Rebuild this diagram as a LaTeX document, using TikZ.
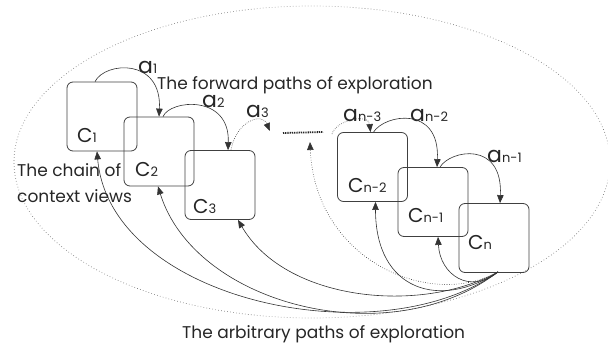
\documentclass[tikz,border=0pt]{standalone}
\usepackage{fontspec}
\setmainfont{Poppins}
\usetikzlibrary{arrows.meta,calc}
\newcommand\ctxlab[1]{{\fontsize{20}{20}\selectfont C}{\fontsize{13}{13}\selectfont #1}}
\newcommand\actlab[1]{{\fontsize{22}{22}\selectfont a}{\fontsize{13}{13}\selectfont #1}}
\begin{document}
\begin{tikzpicture}[x=1pt,y=-1pt,
  view/.style={draw=black!75,line width=0.8pt,rounded corners=6pt,minimum width=70pt,minimum height=69pt,inner sep=0pt},
  fwd/.style={draw=black!80,line width=0.6pt,-{Triangle[length=8pt,width=6.5pt]}},
  fwddot/.style={fwd,dash pattern=on 0.6pt off 1.4pt},
  arb/.style={draw=black!80,line width=0.6pt,-{Triangle[length=8pt,width=6.5pt]}},
  arbdot/.style={arb,dash pattern=on 0.6pt off 1.8pt},
  txt/.style={inner sep=0pt,anchor=base west,font=\fontsize{17}{18}\selectfont,text=black!85},
  lab/.style={inner sep=0pt,anchor=base west,text=black!85},
  scope/.style={draw=black!55,line width=0.7pt,dash pattern=on 0.6pt off 2.4pt}]
\useasboundingbox (0,0) rectangle (608,343);
% outer dotted ellipse
\draw[scope] (312,162) ellipse [x radius=298pt, y radius=156pt];
% context views
\node[view] (c1) at (102,116.5) {};
\node[view] (c2) at (159,151.5) {};
\node[view] (c3) at (220,185) {};
\node[view] (cn2) at (372.5,167) {};
\node[view] (cn1) at (433,202) {};
\node[view] (cn) at (494,238) {};
% box labels
\node[lab] (l1) at (77,142) {\ctxlab{1}};
\node[lab] (l2) at (135,176) {\ctxlab{2}};
\node[lab] (l3) at (193,213) {\ctxlab{3}};
\node[lab] (ln2) at (348,192) {\ctxlab{n-2}};
\node[lab] (ln1) at (408,222) {\ctxlab{n-1}};
\node[lab] (ln) at (468,249) {\ctxlab{n}};
% action labels
\node[lab] (a1) at (138,73) {\actlab{1}};
\node[lab] (a2) at (202,107.5) {\actlab{2}};
\node[lab] (a3) at (246,117) {\actlab{3}};
\node[lab] (an3) at (343,121) {\actlab{n-3}};
\node[lab] (an2) at (410,121) {\actlab{n-2}};
\node[lab] (an1) at (487,162) {\actlab{n-1}};
% texts
\node[txt] (tf) at (157,89) {The forward paths of exploration};
\node[txt] (tc1) at (17,176) {The chain of};
\node[txt] (tc2) at (17,202) {context views};
\node[txt] (ta) at (182,338) {The arbitrary paths of exploration};
% free ends
\coordinate (a3end) at (270,131);
\coordinate (d1) at (283,133);
\coordinate (d2) at (323,132);
\coordinate (dotup) at (310,142);
\coordinate (an3start) at (332,134);
\coordinate (src) at ($(cn.south)+(4,-1)$);
% forward paths
\draw[fwd] ($(c1.north)+(-7,0)$) .. controls +(10,-20) and +(3,-59) .. (c2.north);
\draw[fwd] ($(c2.north)+(4,0)$) .. controls +(7,-17) and +(2,-56) .. ($(c3.north)+(8,0)$);
\draw[fwddot] ($(c3.north)+(11,0)$) .. controls +(5,-29) and +(-8,-19) .. (a3end);
\draw[black!85,line width=1.8pt,dash pattern=on 1pt off 0.8pt] (d1) -- (d2);
\draw[fwddot] (an3start) .. controls +(4,-14) and +(-2,-19) .. ($(cn2.north)+(-2,0)$);
\draw[fwd] ($(cn2.north)+(1,0)$) .. controls +(11.5,-18) and +(3,-62) .. ($(cn1.north)+(4,0)$);
\draw[fwd] ($(cn1.north)+(7,0)$) .. controls +(10,-17) and +(3,-63) .. ($(cn.north)+(6,0)$);
% arbitrary paths
\draw[arb] (src) .. controls +(-120,86) and +(13,149) .. ($(c1.south)+(-5,0)$);
\draw[arb] (src) .. controls +(-108,83) and +(37,119) .. ($(c2.south)+(-1,0)$);
\draw[arb] (src) .. controls +(-78,43) and +(47,81) .. ($(c3.south)+(18,0)$);
\draw[arb] (src) .. controls +(-58,38) and +(0,89) .. ($(cn2.south)+(3,0)$);
\draw[arb] (src) .. controls +(-28,23) and +(2,38) .. ($(cn1.south)+(5,0)$);
\draw[arbdot] (src) .. controls +(-68,38) and +(5,118) .. (dotup);
\end{tikzpicture}
\end{document}
